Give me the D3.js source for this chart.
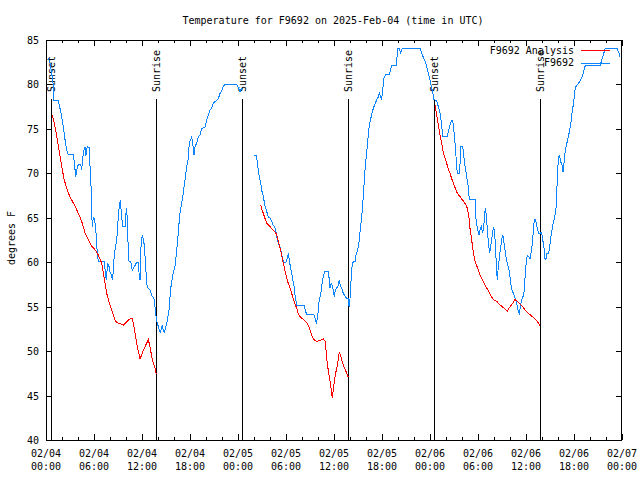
<!DOCTYPE html>
<html><head><meta charset="utf-8">
<script src="https://cdn.jsdelivr.net/npm/d3@7"></script>
<style>
body{margin:0;background:#fff}
svg text{font-family:"DejaVu Sans Mono","Liberation Mono",monospace;font-size:10px;fill:#000}
</style>
</head><body><svg id="chart" width="640" height="480"></svg>
<script>
// ---- data (hours since 2025-02-04 00:00 UTC, temperature in °F) ----
const titleText = "Temperature for F9692 on 2025-Feb-04 (time in UTC)";
const yLabel = "degrees F";
const seriesNames = ["F9692 Analysis", "F9692"];
const yTicks = [40,45,50,55,60,65,70,75,80,85];

const sunHours = [0.59, 13.79, 24.54, 37.79, 48.46, 61.79];
const sunLabels = ["Sunset","Sunrise","Sunset","Sunrise","Sunset","Sunrise"];

const obsHours1 = [0.29,0.5,0.71,0.91,1.0,1.54,1.75,1.96,2.16,2.38,2.59,2.79,3.41,3.54,3.71,3.84,4.04,4.34,4.46,4.66,4.88,5.0,5.16,5.38,5.5,5.63,5.71,5.79,5.91,6.04,6.13,6.25,6.41,6.54,7.29,7.41,7.54,7.71,7.88,8.0,8.16,8.29,8.41,8.5,8.63,8.84,9.04,9.16,9.29,9.38,9.5,9.59,9.88,10.0,10.09,10.16,10.29,10.38,10.59,10.79,11.04,11.34,11.54,11.66,11.75,11.88,12.04,12.16,12.29,12.41,12.59,12.75,13.0,13.21,13.41,13.54,13.66,13.79,13.91,14.04,14.16,14.29,14.41,14.54,14.66,14.79,14.91,15.04,15.21,15.38,15.5,15.63,15.79,15.91,16.04,16.16,16.34,16.46,16.63,16.75,16.96,17.16,17.38,17.59,17.79,17.91,18.09,18.21,18.34,18.5,18.63,18.84,19.04,19.25,19.46,19.66,19.88,20.09,20.29,20.5,20.71,20.91,21.13,21.34,21.54,21.75,21.96,22.16,22.38,23.84,24.04,24.25,24.46];
const obsTemps1 = [83,82.4,81.3,79.9,78.2,78.2,77.3,76.4,75.2,73.8,72.6,72.1,72.1,71.3,69.6,70.4,71,71,70.4,72.3,73,72,73,72.9,70.8,68.5,65.5,64,65,64.9,64.4,63.3,61,60.1,60.1,58.9,58,59.9,59.5,58.9,58.6,58,58.9,60.3,61.4,62.5,65.1,66.3,67,65.9,64.8,64,64,65.5,66.1,64.5,61.4,60.1,60.1,59.1,59.5,60,60,58.4,58,61.8,63.1,62.6,61.9,60.3,57.6,57.1,56.9,56.3,56,55.8,54.6,53.7,53.1,52.8,52.4,52,52.5,52.9,52.4,52,52.5,52.9,53.7,54.6,56.1,57.3,58.2,58.8,59.2,59.7,61.4,62.5,64.4,65.5,66.6,67.8,69.3,70.8,71.7,73.4,73.8,74.1,73.4,72.1,73,73.4,74.1,74.3,75.1,75.1,75.2,76,76.6,77.1,77.3,77.9,78.1,78.2,78.4,79,79.2,79.8,80,80,79.6,79.2,79.6];

const obsHours2 = [26.0,26.34,26.41,26.54,26.66,26.84,26.96,27.16,27.38,27.59,27.79,28.0,28.21,28.41,28.59,28.75,28.91,29.04,29.16,29.34,29.46,29.59,29.71,30.0,30.16,30.29,30.41,30.54,30.71,30.84,31.0,31.13,31.25,31.38,32.29,32.41,32.59,33.5,33.63,33.79,33.91,34.04,34.16,34.34,34.46,34.66,34.84,35.29,35.41,35.5,35.63,35.75,35.91,36.04,36.16,36.34,36.54,36.66,36.79,36.96,37.16,37.38,37.59,37.79,37.88,38.0,38.13,38.25,38.41,38.63,38.75,38.91,39.04,39.16,39.25,39.46,39.66,39.79,39.91,40.09,40.21,40.34,40.5,40.71,40.91,41.13,41.34,41.54,41.66,41.84,41.96,42.09,42.25,42.46,42.88,43.0,43.21,43.84,43.91,44.16,44.34,44.5,44.66,46.75,46.96,47.38,47.59,48.0,48.21,48.41,48.5,48.84,49.04,49.25,49.46,49.59,50.16,50.29,50.5,50.71,50.84,51.0,51.13,51.25,51.41,51.66,51.75,51.84,52.09,52.16,52.38,52.59,52.79,52.91,53.63,53.75,53.91,54.13,54.25,54.41,54.54,54.66,54.79,54.91,55.04,55.21,55.34,55.46,55.59,55.71,55.84,55.96,56.09,56.21,56.34,56.41,56.54,56.66,56.79,56.96,57.09,57.21,57.34,57.5,57.66,57.84,58.0,58.13,58.25,58.41,58.59,58.71,58.84,58.96,59.09,59.16,59.29,59.41,59.59,59.71,59.79,59.91,60.04,60.16,60.34,60.5,60.59,60.75,60.88,61.0,61.13,61.25,61.41,61.59,61.75,61.88,62.0,62.13,62.25,62.38,62.5,62.63,62.79,62.91,63.04,63.16,63.29,63.41,63.54,63.66,63.75,63.84,63.91,64.04,64.16,64.34,64.5,64.63,64.75,64.88,65.0,65.16,65.34,65.5,65.63,65.75,65.91,66.04,66.16,66.34,66.54,66.75,66.96,67.16,67.29,67.41,69.25,69.46,69.66,69.88,71.41,71.59,71.75];
const obsTemps2 = [72,72,71.1,70.4,69.6,68.9,68.1,67.4,66.3,65.7,65.1,65,64.6,64.1,64,63.4,62.5,62.2,61.9,61.4,60.8,60.3,60,60,60.4,61,60.3,59.5,58.8,58,57.3,56.3,55.6,55.1,55.1,54.6,54.1,54.1,53.7,53.1,53.7,54.6,55.8,56.3,57.3,58.4,59,59,58,57.1,57.6,57.4,56.9,56.1,56.9,57.1,57.4,58,57.4,57.1,56.5,56.2,55.9,55.9,55,55.9,58,59.5,60.1,60.1,60.8,61.2,61.8,62.5,63.4,65.1,67.4,69.3,70.8,72.3,73.6,74.9,75.8,76.6,77.3,77.8,78.3,78.6,79.1,78.6,78.3,79.4,80.7,81.1,81.1,81.4,82.1,82.1,84.1,84.1,83.5,84,84.1,84.1,83.5,82.6,82,80.5,79.6,78.8,78.3,78.2,77.5,76.8,75.4,74.1,74.1,74.7,75.4,76,76,74.7,73.4,71.9,70,70,71,73,73,72.4,70.8,69.6,68.5,67.1,67.1,64.9,63.8,63.1,63.6,64,63.4,63.6,64.8,66.1,65.3,63.1,61.8,61,61.8,62.5,63.4,64,63.3,61.2,59.1,58,59.5,60.4,61.4,62.5,63.1,62.5,61.6,60.6,59.9,59.3,58.4,57.4,56.9,56.5,56.1,55.8,55.4,54.8,54.4,54.1,55,55.6,56.1,56.1,57.2,58.6,60.1,60.8,60.6,60.4,60.8,61.8,63.1,64.4,64.9,64.5,63.8,63.2,63.2,63.4,63.1,62.3,61.6,60.3,60.4,61,61,61.4,62.3,63.2,63.8,64.5,64.8,65.5,66.1,67.5,69.6,71.5,72.1,71.3,70.9,70.2,71.2,72.3,73,73.6,74.3,75.1,75.8,76.8,77.7,78.6,79.6,79.9,80.1,80.4,80.7,81.3,81.8,82.1,82.1,82.7,83.3,84,84,83.6,83.1];

const anaHours1 = [0.79,1.0,1.21,1.41,1.63,1.84,2.04,2.25,2.46,2.66,2.88,3.21,3.63,4.04,4.46,4.88,5.29,5.71,6.13,6.54,6.96,7.16,7.38,7.59,7.79,8.0,8.21,8.41,8.63,8.84,9.25,9.66,10.09,10.29,10.5,10.75,10.91,11.13,11.34,11.54,11.75,11.96,12.16,12.38,12.59,12.79,13.0,13.21,13.41,13.63,13.79];
const anaTemps1 = [76.6,75.8,74.9,73.8,72.6,71.5,70.4,69.4,68.7,68.1,67.6,67,66.3,65.5,64.6,63.3,62.5,61.8,61.4,60.8,59.9,58.8,57.6,56.5,55.8,55.2,54.6,54.1,53.5,53.2,53.1,52.9,53.3,53.5,53.6,53.7,53.2,52,50.9,50,49.1,49.6,50.1,50.5,50.9,51.3,50.5,49.4,48.6,48.1,47.4];

const anaHours2 = [26.84,26.96,27.16,27.38,27.59,27.79,28.0,28.21,28.41,28.63,28.84,29.04,29.25,29.46,29.66,29.88,30.09,30.29,30.5,30.71,30.91,31.13,31.34,31.54,31.75,31.96,32.16,32.38,32.59,32.79,33.0,33.21,33.41,33.63,33.84,34.25,34.66,34.88,35.0,35.16,35.34,35.5,35.66,35.79,35.91,36.04,36.16,36.34,36.46,36.59,36.71,36.84,37.0,37.16,37.34,37.5,37.66,37.79];
const anaTemps2 = [66.4,66,65.5,64.9,64.4,64.2,64,63.8,63.6,63.4,63.1,62.3,61.6,60.8,59.9,59,58.2,57.6,57.1,56.5,55.9,55.3,54.8,54.2,53.9,53.7,53.6,53.4,53.2,52.9,52.4,51.8,51.4,51.2,51.1,51.2,51.4,51.1,50.1,48.6,47.5,46.6,45.6,44.7,45.6,46.6,47.3,48.1,48.6,49.6,49.8,49.4,48.9,48.4,48.1,47.7,47.3,47.1];

const anaHours3 = [48.63,48.84,49.04,49.25,49.46,49.66,49.88,50.09,50.29,50.5,50.71,50.91,51.13,51.34,51.54,51.75,51.96,52.16,52.38,52.59,52.79,52.91,53.0,53.21,53.41,53.63,53.84,54.04,54.25,54.46,54.66,54.88,55.09,55.29,55.5,55.71,55.91,56.34,56.75,57.16,57.66,58.0,58.34,58.63,58.91,59.25,59.66,60.09,60.5,60.91,61.34,61.75];
const anaTemps3 = [77.7,76.6,75.4,74.3,73.4,72.4,71.7,71.1,70.5,70,69.4,68.9,68.4,67.9,67.6,67.4,67.1,66.9,66.6,66.3,65.5,64.8,63.8,62.5,61.2,60.1,59.6,59.1,58.6,58.2,57.8,57.4,57.1,56.8,56.4,56.1,55.8,55.6,55.2,54.9,54.5,55,55.4,55.8,55.6,55.3,54.9,54.4,54.1,53.8,53.4,52.9];

// ---- drawing ----
const W = 640, H = 480;
const M = {left:46, right:622, top:40, bottom:440};
const T0 = Date.UTC(2025,1,4);
const toDate = h => new Date(T0 + h*3600e3);
const RED = "#ff0000", BLUE = "#0a84ff";

const svg = d3.select("#chart");
svg.append("rect").attr("width",W).attr("height",H).attr("fill","#fff");

const x = d3.scaleUtc().domain([toDate(0), toDate(72)]).range([M.left, M.right]);
const y = d3.scaleLinear().domain([40,85]).range([M.bottom, M.top]);

const crisp = g => g.attr("shape-rendering","crispEdges");
const noDomain = g => g.select(".domain").remove();

// minor x ticks (2h) bottom & top
svg.append("g").attr("transform",`translate(0,${M.bottom})`)
  .call(d3.axisBottom(x).ticks(d3.utcHour.every(2)).tickSize(-3).tickFormat(""))
  .call(noDomain).call(crisp);
svg.append("g").attr("transform",`translate(0,${M.top})`)
  .call(d3.axisTop(x).ticks(d3.utcHour.every(2)).tickSize(-3).tickFormat(""))
  .call(noDomain).call(crisp);
// major x ticks (6h)
svg.append("g").attr("transform",`translate(0,${M.bottom})`)
  .call(d3.axisBottom(x).ticks(d3.utcHour.every(6)).tickSize(-6).tickFormat(""))
  .call(noDomain).call(crisp);
svg.append("g").attr("transform",`translate(0,${M.top})`)
  .call(d3.axisTop(x).ticks(d3.utcHour.every(6)).tickSize(-6).tickFormat(""))
  .call(noDomain).call(crisp);

// x labels (two lines)
const fDay = d3.utcFormat("%m/%d"), fTime = d3.utcFormat("%H:%M");
const xl = svg.append("g").selectAll("text").data(x.ticks(d3.utcHour.every(6))).join("text")
  .attr("text-anchor","middle").attr("x", d => x(d));
xl.append("tspan").attr("x", d => x(d)).attr("y", 457).text(d => fDay(d));
xl.append("tspan").attr("x", d => x(d)).attr("y", 470).text(d => fTime(d));

// y axes
svg.append("g").attr("transform",`translate(${M.left},0)`)
  .call(d3.axisLeft(y).tickValues(yTicks).tickSize(-6).tickPadding(7).tickFormat(d3.format("d")))
  .call(noDomain).call(crisp)
  .call(g => g.selectAll("text").attr("font-size",null).attr("font-family",null).attr("dy","0.35em"));
svg.append("g").attr("transform",`translate(${M.right},0)`)
  .call(d3.axisRight(y).tickValues(yTicks).tickSize(-6).tickFormat(""))
  .call(noDomain).call(crisp);
svg.selectAll(".tick line").attr("stroke","#000");

// border
svg.append("rect").attr("x",M.left+0.5).attr("y",M.top+0.5)
  .attr("width",M.right-M.left-1).attr("height",M.bottom-M.top)
  .attr("fill","none").attr("stroke","#000").attr("shape-rendering","crispEdges");

// sunrise / sunset markers
const sun = svg.append("g");
sunHours.forEach((h,i) => {
  const sx = Math.round(x(toDate(h))) + 0.5;
  sun.append("line").attr("x1",sx).attr("x2",sx).attr("y1",99).attr("y2",M.bottom)
    .attr("stroke","#000").attr("shape-rendering","crispEdges");
  sun.append("text").attr("transform",`translate(${sx},92) rotate(-90)`)
    .attr("dy","0.35em").attr("text-anchor","start").text(sunLabels[i]);
});

// lines (aliased like the original bitmap output)
const line = d3.line().x(d => x(toDate(d[0]))).y(d => y(d[1]));
const plot = svg.append("g");
[[obsHours1,obsTemps1],[obsHours2,obsTemps2]].forEach(([h,t]) => {
  plot.append("path").attr("d", line(d3.zip(h,t))).attr("fill","none")
    .attr("stroke",BLUE).attr("stroke-width",1).attr("shape-rendering","crispEdges");
});
[[anaHours1,anaTemps1],[anaHours2,anaTemps2],[anaHours3,anaTemps3]].forEach(([h,t]) => {
  plot.append("path").attr("d", line(d3.zip(h,t))).attr("fill","none")
    .attr("stroke",RED).attr("stroke-width",1).attr("shape-rendering","crispEdges");
});

// legend
const leg = svg.append("g");
[[seriesNames[0],RED,50],[seriesNames[1],BLUE,62.5]].forEach(([name,col,ly]) => {
  leg.append("text").attr("x",574).attr("y",ly).attr("dy","0.35em").attr("text-anchor","end").text(name);
  leg.append("line").attr("x1",581).attr("x2",610).attr("y1",Math.round(ly)+0.5).attr("y2",Math.round(ly)+0.5)
    .attr("stroke",col).attr("shape-rendering","crispEdges");
});

// title & y label
svg.append("text").attr("x",333).attr("y",20).attr("dy","0.35em").attr("text-anchor","middle").text(titleText);
svg.append("text").attr("transform","translate(11,238) rotate(-90)").attr("dy","0.35em")
  .attr("text-anchor","middle").text(yLabel);
</script>
</body></html>
